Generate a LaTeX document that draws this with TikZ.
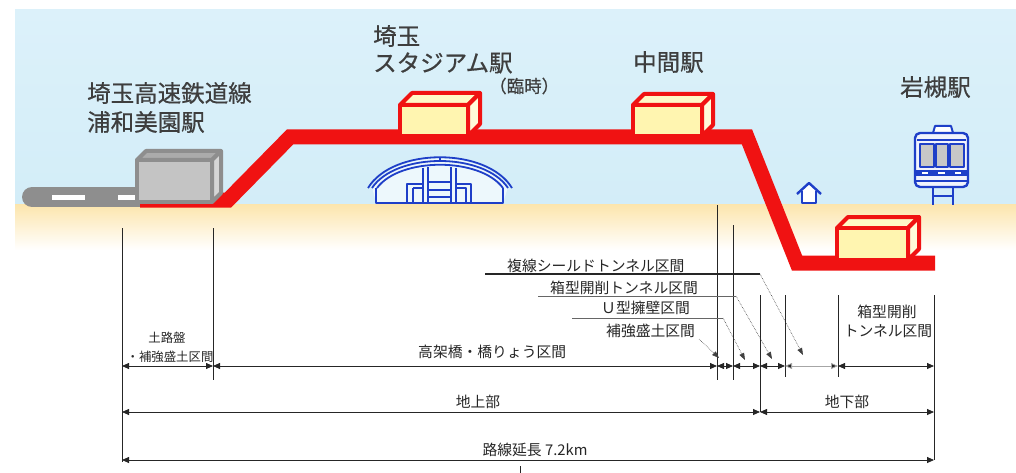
\documentclass[tikz,border=0pt]{standalone}
\usepackage{fontspec}
\newfontfamily\jp{Noto Sans CJK JP}
\newfontfamily\jpb[FakeBold=0.6]{Noto Sans CJK JP}
\usetikzlibrary{arrows.meta}

\definecolor{skyblue}{HTML}{D3EDF8}
\definecolor{skytop}{HTML}{DCF1FA}
\definecolor{sand}{HTML}{FCE5AC}
\definecolor{trackred}{HTML}{F01212}
\definecolor{boxfront}{HTML}{FFF5B0}
\definecolor{boxtop}{HTML}{FFF8C6}
\definecolor{boxside}{HTML}{FFFBD9}
\definecolor{iconblue}{HTML}{1E3FC8}
\definecolor{labelgray}{HTML}{3E3E3E}
\definecolor{oldgray}{HTML}{8E8E8E}

% 3-D station box: front face (#1,#2)-(#3,#4), depth #5, styles #6
\newcommand{\stationbox}[6]{%
  \filldraw[#6, fill=topc] (#1,#2) -- (#1+#5,#2-#5) -- (#3+#5,#2-#5) -- (#3,#2) -- cycle;
  \filldraw[#6, fill=sidec] (#3,#2) -- (#3+#5,#2-#5) -- (#3+#5,#4-#5) -- (#3,#4) -- cycle;
  \filldraw[#6, fill=frontc] (#1,#2) rectangle (#3,#4);
}

\begin{document}
\begin{tikzpicture}[x=1pt,y=-1pt,
  stationlabel/.style={font=\jpb\fontsize{23.5}{28}\selectfont, text=labelgray, inner sep=0pt, anchor=west},
  smalllabel/.style={font=\jp\fontsize{14.8}{18}\selectfont, text=black!85, inner sep=0pt},
  tinylabel/.style={font=\jp\fontsize{12.4}{15}\selectfont, text=black!85, inner sep=0pt},
  track/.style={draw=trackred, line width=15pt, line join=miter},
  redbox/.style={draw=trackred, line width=4pt, line join=round},
  graybox/.style={draw=oldgray, line width=4pt, line join=round},
  icon/.style={draw=iconblue, line width=1.8pt, line join=round},
  extline/.style={draw=black!85, line width=0.8pt},
  dimline/.style={draw=black!85, line width=0.8pt, {Triangle[length=7pt,width=6pt]}-{Triangle[length=7pt,width=6pt]}},
  underline/.style={draw=black!60, line width=0.7pt},
  leader/.style={draw=black!75, line width=0.6pt, densely dotted, -{Triangle[length=7pt,width=5pt]}},
]
\useasboundingbox (0,0) rectangle (1016,473);

% sky and ground
\shade[top color=skytop, bottom color=skyblue] (15,10) rectangle (1016,205);
\shade[top color=sand, bottom color=white] (15,204) rectangle (1016,250);

% existing line (grey) with white dashes
\draw[oldgray, line width=20pt, line cap=round] (32,197) -- (140,197);
\fill[white] (52,195) rectangle (85,200);
\fill[white] (118,195) rectangle (137,200);

% new line (red track profile)
\draw[track] (140,200) -- (228,200) -- (290,137) -- (747,137) -- (797,263) -- (935,263);

% stations
\colorlet{topc}{boxtop}\colorlet{sidec}{boxside}\colorlet{frontc}{boxfront}
\stationbox{400}{105}{468}{136}{12}{redbox}
\stationbox{633}{105}{702}{136}{11}{redbox}
\stationbox{837}{228}{908}{260}{11}{redbox}
\colorlet{topc}{black!33}\colorlet{sidec}{black!16}\colorlet{frontc}{black!23}
\stationbox{137}{160}{212}{202}{9}{graybox}

% stadium icon
\begin{scope}[icon]
  \fill[white!60!skyblue] (372,187) .. controls (396,149) and (484,149) .. (508,187) -- (503,203) -- (376,203) -- cycle;
  \draw (368,188) .. controls (393,147) and (487,147) .. (512,188);
  \draw (372,188) .. controls (396,152) and (484,152) .. (508,188);
  \draw (377,188) .. controls (400,157) and (480,157) .. (503,188);
  \draw (376,188) -- (376,203) -- (503,203) -- (503,188);
  \draw (423,168) -- (423,203) (428,167) -- (428,203);
  \draw (451,167) -- (451,203) (456,168) -- (456,203);
  \draw (428,182) -- (451,182) (428,190) -- (451,190) (428,197) -- (451,197);
  \draw (407,203) -- (407,184) -- (423,184) (413,188) -- (413,203) (413,188) -- (423,188);
  \draw (456,184) -- (471,184) -- (471,203) (456,188) -- (466,188) -- (466,203);
  \draw (440,157) -- (440,162);
\end{scope}

% house icon
\begin{scope}[icon, line width=2.4pt]
  \fill[white] (802,191) -- (809,184) -- (816,191) -- (816,203) -- (802,203) -- cycle;
  \draw (797,194) -- (809,183) -- (821,194);
  \draw (802,191) -- (802,203) -- (816,203) -- (816,191);
\end{scope}

% train icon
\begin{scope}[icon]
  \draw[line width=2.2pt] (933,188) -- (933,205) (953,188) -- (953,205) (933,196) -- (953,196);
  \filldraw[fill=white, line width=2pt] (933,133) -- (935,126) -- (951,126) -- (953,133);
  \filldraw[fill=white!70!iconblue!20, line width=2.4pt, rounded corners=5pt] (915,133) rectangle (968,187);
  \draw (917,140) -- (966,140);
  \filldraw[fill=black!22, line width=1.5pt] (920,144) rectangle (934,167);
  \filldraw[fill=black!22, line width=1.5pt] (936,144) rectangle (948,167);
  \filldraw[fill=black!22, line width=1.5pt] (950,144) rectangle (964,167);
  \fill[iconblue] (916,170) rectangle (967,176);
  \draw[white, line width=1.2pt] (922,173) -- (928,173) (938,173) -- (945,173) (955,173) -- (961,173);
  \draw[line width=1.5pt] (916,181) -- (967,181);
\end{scope}

% station names
\node[stationlabel] (uraname1) at (87,93) {埼玉高速鉄道線};
\node[stationlabel] (uraname2) at (87,122) {浦和美園駅};
\node[stationlabel] (stname1) at (373,36) {埼玉};
\node[stationlabel] (stname2) at (373,63) {スタジアム駅};
\node[stationlabel, font=\jpb\fontsize{17.5}{20}\selectfont] (stnote) at (489,86) {（臨時）};
\node[stationlabel] (midname) at (633,62) {中間駅};
\node[stationlabel] (iwaname) at (900,87) {岩槻駅};

% extension lines
\foreach \n/\x/\ya/\yb in {e0/122/228/462, e1/213/228/380, e2/717/205/380, e3/733/225/380,
                          e4/760/295/412, e5/785/295/377, e6/838/295/377, e7/934/295/460}{
  \coordinate (\n t) at (\x,\ya);
  \coordinate (\n b) at (\x,\yb);
  \draw[extline] (\n t) -- (\n b);
}

% dimension rows
\foreach \n/\x in {0/122, 1/213, 2/717, 3/733, 4/760, 5/785, 6/838, 7/934}{
  \coordinate (r\n) at (\x,366);
}
\draw[dimline] (r0) -- (r1);
\draw[dimline] (r1) -- (r2);
\draw[dimline] (r2) -- (r3);
\draw[dimline] (r3) -- (r4);
\draw[dimline] (r4) -- (r5);
\draw[dimline, draw=black!35, {Triangle[length=7pt,width=6pt,fill=black!85]}-{Triangle[length=7pt,width=6pt,fill=black!85]}] (r5) -- (r6);
\draw[dimline] (r6) -- (r7);

\coordinate (s0) at (122,412);
\coordinate (s1) at (760,412);
\coordinate (s2) at (934,412);
\draw[dimline] (s0) -- (s1);
\draw[dimline] (s1) -- (s2);

\coordinate (t0) at (122,460);
\coordinate (t1) at (934,460);
\draw[dimline] (t0) -- (t1);

% small tick below the total length
\coordinate (tk0) at (520,466);
\coordinate (tk1) at (520,473);
\draw[extline] (tk0) -- (tk1);

% section labels
\node[tinylabel] (roban1) at (167,338) {土路盤};
\node[tinylabel] (roban2) at (170,357) {・補強盛土区間};
\node[smalllabel, anchor=west] (viaduct) at (418,352) {高架橋・橋りょう区間};
\node[smalllabel] (cut1) at (887,312) {箱型開削};
\node[smalllabel] (cut2) at (888,331) {トンネル区間};
\node[smalllabel] (above) at (478,402) {地上部};
\node[smalllabel] (below) at (847,402) {地下部};
\node[smalllabel] (total) at (535,450) {路線延長 7.2km};

% leader labels and pointers
\node[smalllabel, anchor=west] (shield) at (507,266) {複線シールドトンネル区間};
\node[smalllabel, anchor=west] (boxcut) at (550,288) {箱型開削トンネル区間};
\node[smalllabel, anchor=west] (uwall) at (601,308) {Ｕ型擁壁区間};
\node[smalllabel, anchor=west] (reinf) at (606,331) {補強盛土区間};

\coordinate (u1a) at (485,274);  \coordinate (u1b) at (760,274);
\coordinate (u2a) at (538,296);  \coordinate (u2b) at (736,296);
\coordinate (u3a) at (572,318);  \coordinate (u3b) at (723,318);
\coordinate (u4b) at (699,339);
\draw[underline, draw=black!85, line width=1.2pt] (u1a) -- (u1b);
\draw[underline] (u2a) -- (u2b);
\draw[underline] (u3a) -- (u3b);

\coordinate (p1) at (803,355);
\coordinate (p2) at (772,359);
\coordinate (p3) at (745,360);
\coordinate (p4) at (719,358);
\draw[leader] (u1b) -- (p1);
\draw[leader] (u2b) -- (p2);
\draw[leader] (u3b) -- (p3);
\draw[leader] (u4b) -- (p4);

\end{tikzpicture}
\end{document}
